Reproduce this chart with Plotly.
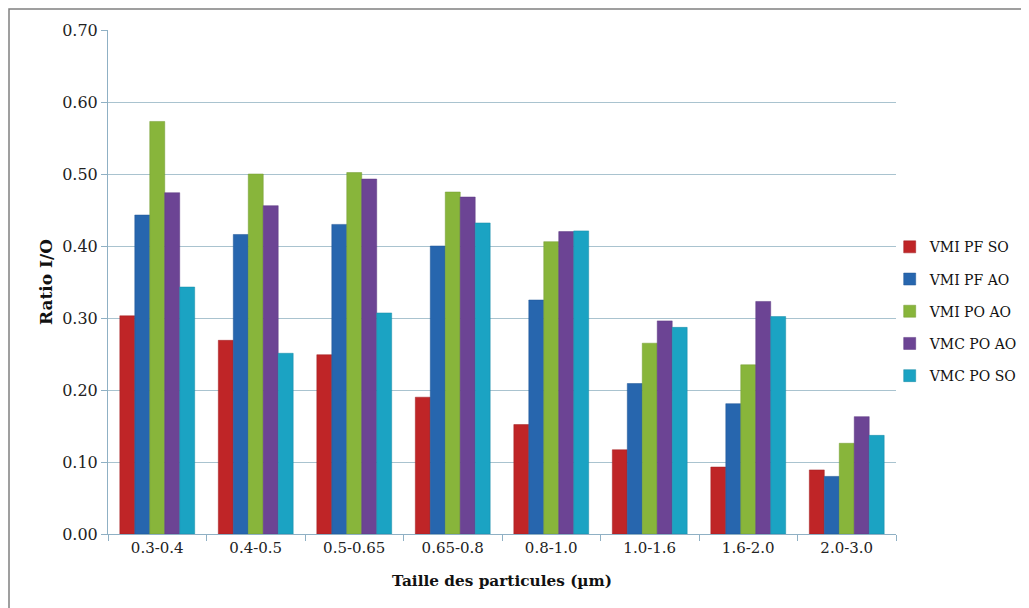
import plotly.graph_objects as go

categories = ["0.3-0.4", "0.4-0.5", "0.5-0.65", "0.65-0.8", "0.8-1.0", "1.0-1.6", "1.6-2.0", "2.0-3.0"]
series_names = ["VMI PF SO", "VMI PF AO", "VMI PO AO", "VMC PO AO", "VMC PO SO"]
vmi_pf_so = [0.303, 0.269, 0.249, 0.190, 0.152, 0.117, 0.093, 0.089]
vmi_pf_ao = [0.443, 0.416, 0.430, 0.400, 0.325, 0.209, 0.181, 0.080]
vmi_po_ao = [0.573, 0.500, 0.502, 0.475, 0.406, 0.265, 0.235, 0.126]
vmc_po_ao = [0.474, 0.456, 0.493, 0.468, 0.420, 0.296, 0.323, 0.163]
vmc_po_so = [0.343, 0.251, 0.307, 0.432, 0.421, 0.287, 0.302, 0.137]
y_ticks = [0.0, 0.1, 0.2, 0.3, 0.4, 0.5, 0.6, 0.7]

values = [vmi_pf_so, vmi_pf_ao, vmi_po_ao, vmc_po_ao, vmc_po_so]
colors = ["#bf2527", "#2766ae", "#88b53b", "#6c4494", "#1ba3c3"]
line_colors = ["#a01e20", "#1f5595", "#739b30", "#5a3780", "#168aa6"]

font_family = "DejaVu Serif"

# page has an 8px body margin: figure is 1021x600 placed at (8,8)
W, H = 1021, 600
ML, MR, MT, MB = 100, 133, 22, 74

fig = go.Figure()
for name, vals, c, lc in zip(series_names, values, colors, line_colors):
    fig.add_trace(go.Bar(
        name=name, x=categories, y=vals, legendgroup=name,
        marker=dict(color=c, line=dict(color=lc, width=0.5)),
    ))

fig.update_layout(
    width=W, height=H,
    barmode="group",
    bargap=0.24, bargroupgap=0.0,
    plot_bgcolor="white", paper_bgcolor="white",
    margin=dict(l=ML, r=MR, t=MT, b=MB, autoexpand=False),
    font=dict(family=font_family, size=15, color="#222222"),
    legend=dict(
        x=-0.008, y=0.442, xanchor="left", yanchor="middle", xref="paper",
        font=dict(family=font_family, size=14, color="#111111"),
        itemwidth=30, traceorder="grouped", tracegroupgap=11,
        bgcolor="rgba(0,0,0,0)",
    ),
    showlegend=True,
)
fig.update_layout(legend=dict(x=1.0 + (-0.008), xanchor="left"))

fig.update_xaxes(
    type="category", automargin=False,
    showline=True, linecolor="#8fb0c4", linewidth=1,
    ticks="outside", tickson="boundaries", ticklen=6, tickcolor="#8fb0c4",
    tickfont=dict(family=font_family, size=15, color="#222222"),
    title=dict(text="<b>Taille des particules (µm)</b>",
               font=dict(family=font_family, size=15.3, color="#111111"), standoff=19),
    showgrid=False,
)
fig.update_yaxes(
    range=[0, 0.7], tickvals=y_ticks, tickformat=".2f", automargin=False,
    showline=True, linecolor="#8fb0c4", linewidth=1,
    ticks="outside", ticklen=6, tickcolor="#8fb0c4",
    showgrid=True, gridcolor="#a9c3cf", gridwidth=1,
    tickfont=dict(family=font_family, size=16, color="#222222"),
    title=dict(text="<b>Ratio I/O</b>",
               font=dict(family=font_family, size=17, color="#111111"), standoff=5),
    zeroline=False,
)

# outer frame of the chart area
pw = W - ML - MR
ph = H - MT - MB
fig.add_shape(type="rect", xref="paper", yref="paper",
              x0=(1 - ML) / pw, x1=(W + 20 - ML) / pw,
              y0=-(H + 20 - (H - MB)) / ph, y1=(H - MB - 1) / ph,
              line=dict(color="#808080", width=1.5), fillcolor="rgba(0,0,0,0)", layer="below")

fig.write_html("out.html")
